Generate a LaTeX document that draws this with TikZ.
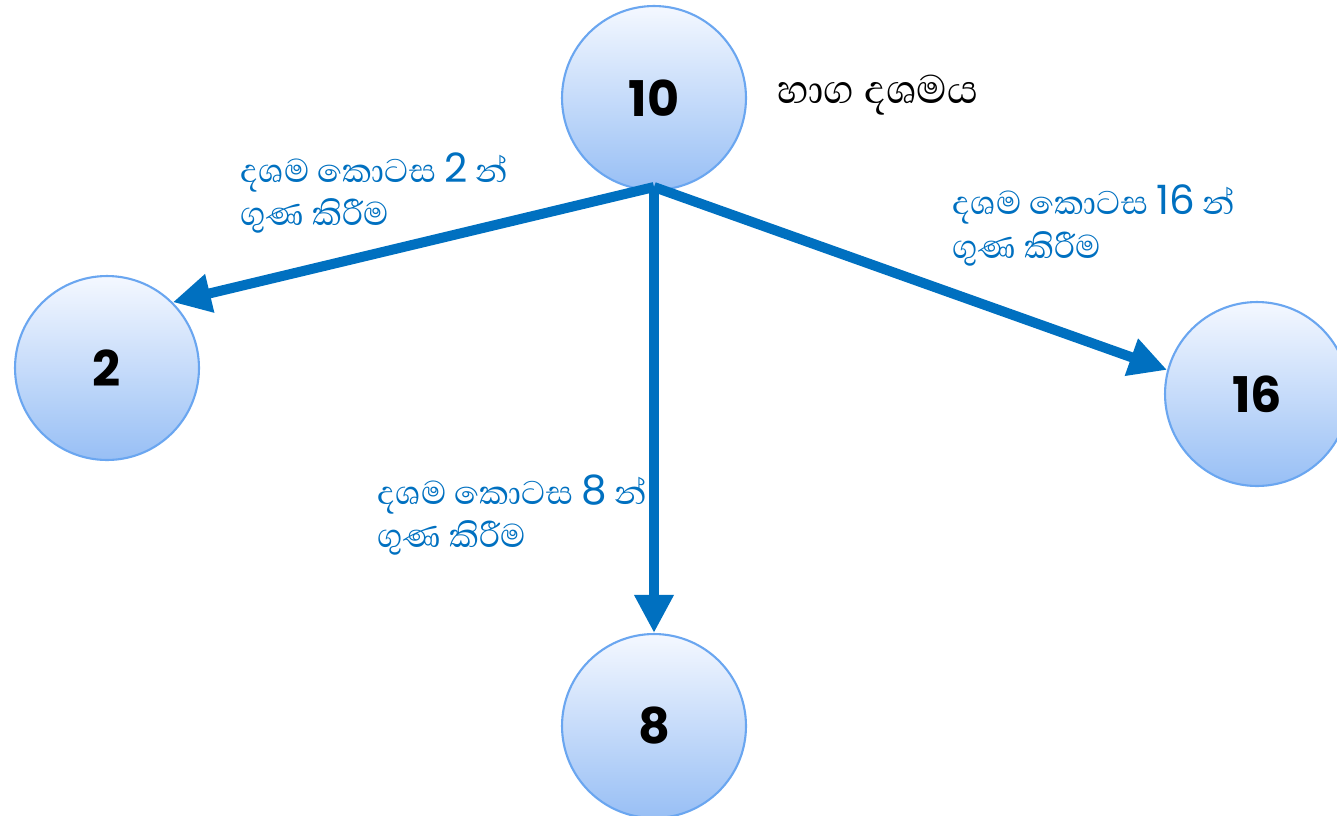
\documentclass[tikz,border=0pt]{standalone}
\usepackage{fontspec}
\setmainfont{Poppins}
\newfontfamily\sinfont[Script=Sinhala]{Abhaya Libre}
\usetikzlibrary{arrows.meta, calc}

\definecolor{flowblue}{HTML}{0070C0}
\definecolor{ballTop}{HTML}{F4F8FF}
\definecolor{ballBottom}{HTML}{98BFF5}
\definecolor{ballEdge}{HTML}{6AA6F0}

\newcommand{\stepnum}[1]{{\rmfamily\fontsize{23}{25}\selectfont #1}}

\tikzset{
  numball/.style={circle, minimum size=3.68cm, inner sep=0pt, draw=ballEdge, line width=1.2pt,
    top color=ballTop, bottom color=ballBottom, font=\fontsize{28}{34}\selectfont\bfseries},
  flow/.style={draw=flowblue, line width=0.2cm, -{Triangle[length=0.76cm, width=0.74cm]}},
  steptext/.style={anchor=west, inner sep=0pt, align=left, text=flowblue,
    font=\fontsize{24}{25}\sinfont}
}

\begin{document}
\begin{tikzpicture}[x=0.02cm, y=-0.02cm]
  \useasboundingbox (0,0) rectangle (1337,815);

  % Fraction and the three results
  \node[numball] (ten) at (654,98) {10};
  \node[numball] (two) at (107,368) {2};
  \node[numball] (eight) at (654,726) {8};
  \node[numball] (sixteen) at (1257,394) {16};

  % Title of the top node
  \node[anchor=west, inner sep=0pt, font=\fontsize{29}{34}\sinfont] (title) at (777,95)
    {හාග දශමය};

  % Multiplying arrows
  \coordinate (hub) at ($(ten.south)+(0,-4)$);
  \draw[flow] (hub) -- (two.45);
  \draw[flow] (hub) -- (eight.north);
  \draw[flow] (hub) -- (sixteen.165);

  % Arrow labels
  \node[steptext] (twolabel) at (240,193) {දශම කොටස \stepnum{2} න්\\ ගුණ කිරීම};
  \node[steptext] (eightlabel) at (377,515) {දශම කොටස \stepnum{8} න්\\ ගුණ කිරීම};
  \node[steptext] (sixteenlabel) at (952,225) {දශම කොටස \stepnum{16} න්\\ ගුණ කිරීම};
\end{tikzpicture}
\end{document}
